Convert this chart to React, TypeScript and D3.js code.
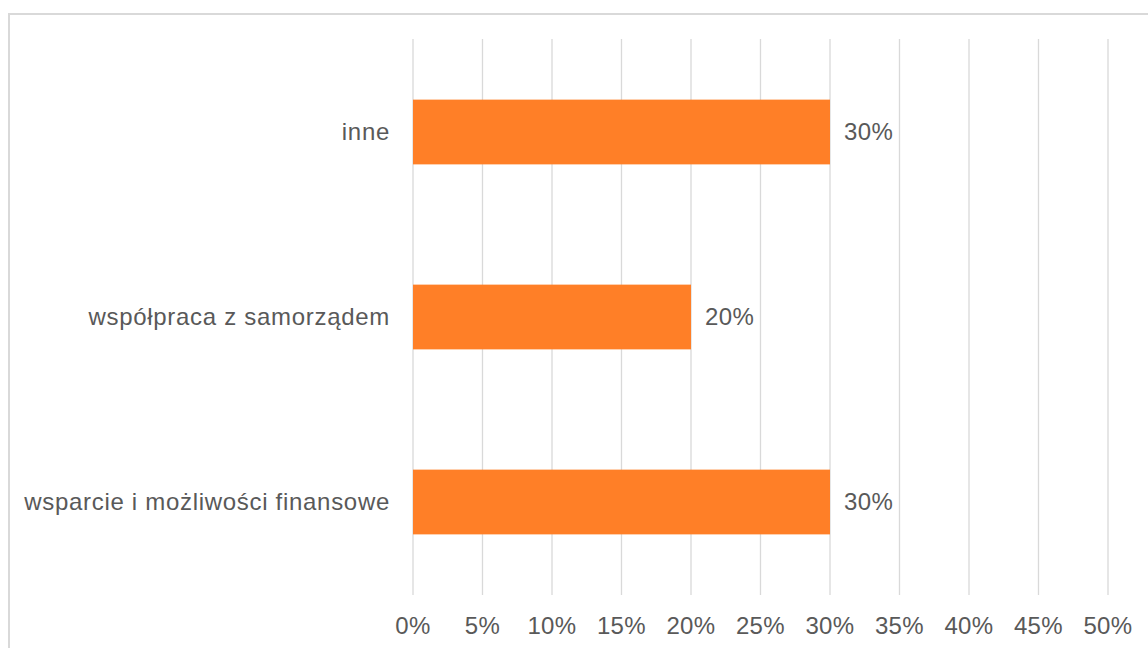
import React from "react";
import * as d3 from "d3";

const categories = ["inne", "współpraca z samorządem", "wsparcie i możliwości finansowe"];
const values = [0.3, 0.2, 0.3];
const ticks = [0, 0.05, 0.1, 0.15, 0.2, 0.25, 0.3, 0.35, 0.4, 0.45, 0.5];

const W = 1148;
const H = 648;

export default function App() {
  const x = d3.scaleLinear().domain([0, 0.5]).range([413, 1108]);
  const y = d3.scaleBand<string>().domain(categories).range([39.5, 594.5]).paddingInner(0.65).paddingOuter(0.325);
  const fmt = d3.format(".0%");
  const font = "'Liberation Sans', Arial, sans-serif";
  const textColor = "#595959";
  return (
    <svg width={W} height={H} style={{ position: "absolute", left: 0, top: 0, background: "#fff" }}>
      <rect x={0} y={0} width={W} height={H} fill="#fff" />
      <rect x={9} y={14} width={W + 10} height={H + 10} fill="none" stroke="#d9d9d9" strokeWidth={2} />
      {ticks.map((t) => (
        <line key={t} x1={x(t)} x2={x(t)} y1={39} y2={595} stroke="#d9d9d9" strokeWidth={1.3} />
      ))}
      {categories.map((c, i) => (
        <g key={c}>
          <rect x={x(0)} y={y(c)!} width={x(values[i]) - x(0)} height={y.bandwidth()} fill="#FF7F27" />
          <text
            x={x(values[i]) + 14}
            y={y(c)! + y.bandwidth() / 2}
            dy="0.35em"
            fontFamily={font}
            fontSize={24}
            letterSpacing={0.4}
            fill={textColor}
          >
            {fmt(values[i])}
          </text>
          <text
            x={390}
            y={y(c)! + y.bandwidth() / 2}
            dy="0.35em"
            textAnchor="end"
            fontFamily={font}
            fontSize={24}
            letterSpacing={0.7}
            fill={textColor}
          >
            {c}
          </text>
        </g>
      ))}
      {ticks.map((t) => (
        <text key={"l" + t} x={x(t)} y={626} dy="0.35em" textAnchor="middle" fontFamily={font} fontSize={24} letterSpacing={0.4} fill={textColor}>
          {fmt(t)}
        </text>
      ))}
    </svg>
  );
}
